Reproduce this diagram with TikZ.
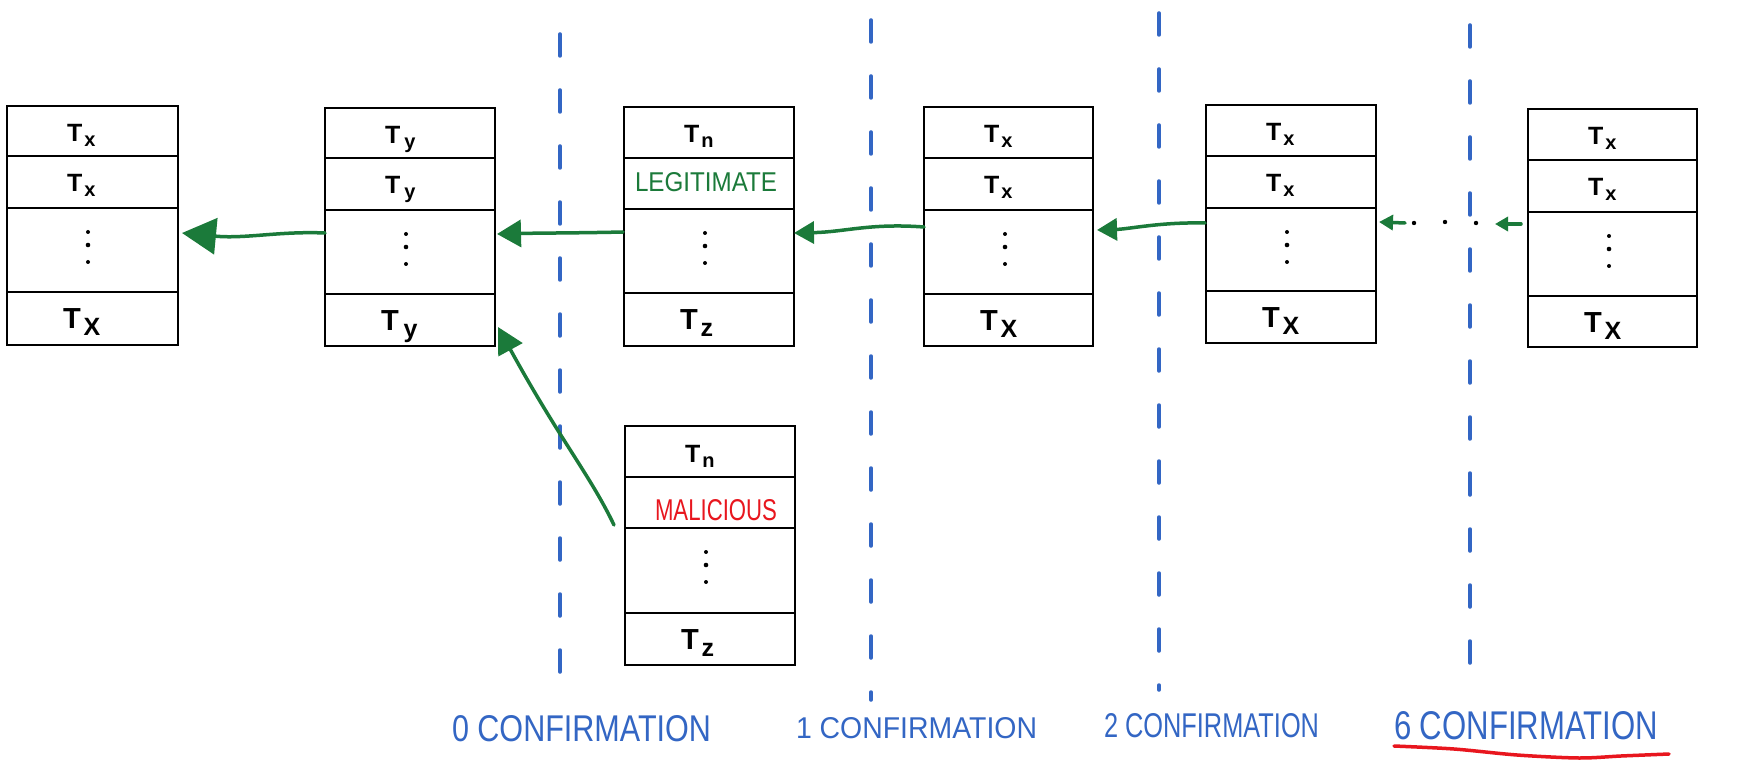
\documentclass[tikz,border=0pt]{standalone}
\usepackage{fontspec}
\setmainfont{Liberation Sans}
\usepackage{graphicx}
\usetikzlibrary{arrows.meta}
\definecolor{gr}{RGB}{27,122,58}
\definecolor{bl}{RGB}{51,102,196}
\definecolor{rd}{RGB}{232,22,30}
\newcommand\Tl[1]{\bfseries\fontsize{25}{25}\selectfont T\kern2pt\raisebox{-5pt}{\fontsize{20}{20}\selectfont #1}}
\newcommand\TL[1]{\bfseries\fontsize{29}{29}\selectfont T\kern3pt\raisebox{-7pt}{\fontsize{25}{25}\selectfont #1}}
\newcommand\chainbox[8]{%
 \node[blk, minimum width={#4-#2}, minimum height={#5-#3}, anchor=north west] (#1) at (#2,#3) {};
 \draw[rowl] (#2,#6) -- (#4,#6);
 \draw[rowl] (#2,#7) -- (#4,#7);
 \draw[rowl] (#2,#8) -- (#4,#8);
 \fill (#2+81,#7+24) circle[radius=2];
 \fill (#2+81,#7+37) circle[radius=2.3];
 \fill (#2+81,#7+54) circle[radius=2];
}
\newcommand\rowtexts[6]{%
 \node[txt] (#1-1) at (#2+60,#3+36) {\Tl{#5}};
 \node[txt] (#1-4) at (#2+56,#4+36) {\TL{#6}};
}
\tikzset{
 blk/.style={draw=black, line width=2.7pt, rectangle, inner sep=0pt, outer sep=0pt, fill=white},
 rowl/.style={draw=black, line width=2.7pt},
 txt/.style={anchor=base west, inner sep=0pt, outer sep=0pt},
 lbl/.style={anchor=base west, inner sep=0pt, outer sep=0pt, text=bl},
 gline/.style={draw=gr, line width=3.5pt, line cap=round},
 sep/.style={draw=bl, line width=3.5pt, line cap=round, dash pattern=on 22pt off 34pt},
}
\begin{document}
\begin{tikzpicture}[x=1pt,y=-1pt]
\fill[white] (0,0) rectangle (1753,767);
\useasboundingbox (0,0) rectangle (1753,767);

% separators
\draw[sep] (560,34) -- (560,680);
\draw[sep] (871,20) -- (871,700);
\draw[sep] (1159,13) -- (1159,690);
\draw[sep] (1470,25) -- (1470,672);

% blocks
\chainbox{b1}{7}{106}{178}{345}{156}{208}{292}
\rowtexts{b1}{7}{106}{292}{x}{X}
\node[txt] (b1-2) at (67,192) {\Tl{x}};

\chainbox{b2}{325}{108}{495}{346}{158}{210}{294}
\rowtexts{b2}{325}{108}{294}{\kern2pt y}{\kern2pt y}
\node[txt] (b2-2) at (385,194) {\Tl{\kern2pt y}};

\chainbox{b3}{624}{107}{794}{346}{158}{209}{293}
\rowtexts{b3}{624}{107}{293}{n}{z}
\node[txt, text=gr] (b3-2) at (635,192) {\resizebox{142pt}{19pt}{LEGITIMATE}};

\chainbox{b4}{924}{107}{1093}{346}{158}{210}{294}
\rowtexts{b4}{924}{107}{294}{x}{X}
\node[txt] (b4-2) at (984,194) {\Tl{x}};

\chainbox{b5}{1206}{105}{1376}{343}{156}{208}{291}
\rowtexts{b5}{1206}{105}{291}{x}{X}
\node[txt] (b5-2) at (1266,192) {\Tl{x}};

\chainbox{b6}{1528}{109}{1697}{347}{160}{212}{296}
\rowtexts{b6}{1528}{109}{296}{x}{X}
\node[txt] (b6-2) at (1588,196) {\Tl{x}};

\chainbox{b7}{625}{426}{795}{665}{477}{528}{613}
\rowtexts{b7}{625}{426}{613}{n}{z}
\node[txt, text=rd] (b7-2) at (655,520) {\resizebox{122pt}{21pt}{MALICIOUS}};

% connector end points
\coordinate (a1s) at (325,233); \coordinate (a1e) at (182,233);
\coordinate (a2s) at (623,232); \coordinate (a2e) at (497,234);
\coordinate (a3s) at (924,227); \coordinate (a3e) at (794,233);
\coordinate (a4s) at (1205,223); \coordinate (a4e) at (1097,230);
\coordinate (a5s) at (1521,224); \coordinate (a5m) at (1495,224);
\coordinate (a5n) at (1405,223); \coordinate (a5e) at (1379,222);
\coordinate (a6s) at (614,525); \coordinate (a6e) at (498,327);

\draw[gline, -{Triangle[length=34pt,width=36pt]}] (a1s) .. controls (280,231) and (245,239) .. (a1e);
\draw[gline, -{Triangle[length=24pt,width=27pt]}] (a2s) .. controls (580,233) and (540,233) .. (a2e);
\draw[gline, -{Triangle[length=20pt,width=22pt]}] (a3s) .. controls (870,223) and (845,232) .. (a3e);
\draw[gline, -{Triangle[length=20pt,width=22pt]}] (a4s) .. controls (1160,222) and (1130,229) .. (a4e);
\draw[gline, -{Triangle[length=13pt,width=14pt]}] (a5s) -- (a5m);
\draw[gline, -{Triangle[length=14pt,width=15pt]}] (a5n) -- (a5e);
\fill (1476,223) circle[radius=2.2];
\fill (1445,222) circle[radius=2.2];
\fill (1414,223) circle[radius=2.2];
\draw[gline, -{Triangle[length=26pt,width=27pt]}] (a6s) .. controls (590,475) and (560,440) .. (a6e);

% confirmation labels
\node[lbl] (c0) at (452,741) {\resizebox{259pt}{26pt}{0 CONFIRMATION}};
\node[lbl] (c1) at (796,738) {\resizebox{241pt}{21pt}{1 CONFIRMATION}};
\node[lbl] (c2) at (1104,737) {\resizebox{215pt}{24pt}{2 CONFIRMATION}};
\node[lbl] (c6) at (1394,739) {\resizebox{264pt}{28pt}{6 CONFIRMATION}};
\draw[rd, line width=3.5pt, line cap=round] plot[smooth] coordinates {(1394,746) (1454,749) (1517,755) (1579,758) (1621,756) (1669,754)};
\end{tikzpicture}
\end{document}
